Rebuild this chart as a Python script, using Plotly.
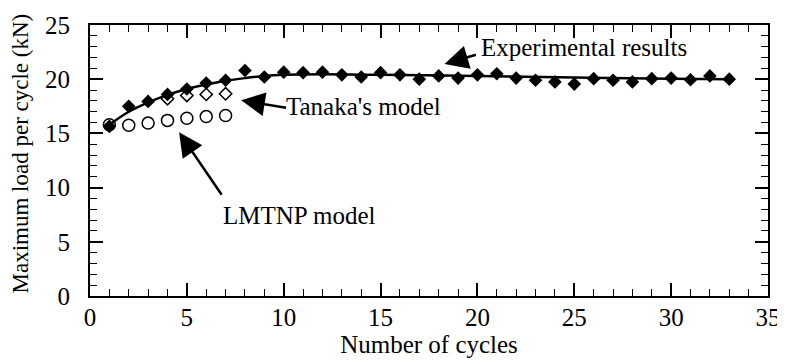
import plotly.graph_objects as go

# Data
cycles_exp = list(range(1, 34))
load_exp = [15.65, 17.5, 17.95, 18.6, 19.1, 19.65, 19.9, 20.8, 20.2, 20.65,
            20.6, 20.65, 20.4, 20.2, 20.6, 20.4, 20.0, 20.3, 20.1, 20.4,
            20.5, 20.1, 19.9, 19.75, 19.55, 20.05, 19.9, 19.75, 20.05, 20.1,
            19.95, 20.3, 20.0]

cycles_fit = [1, 2, 3, 4, 5, 6, 7, 8, 9, 10, 12, 15, 20, 25, 30, 33]
load_fit = [15.8, 17.0, 17.85, 18.55, 19.1, 19.5, 19.85, 20.1, 20.3, 20.4,
            20.45, 20.4, 20.3, 20.15, 20.05, 20.0]

cycles_tanaka = [4, 5, 6, 7]
load_tanaka = [18.2, 18.5, 18.6, 18.65]

cycles_lmtnp = [1, 2, 3, 4, 5, 6, 7]
load_lmtnp = [15.8, 15.75, 15.95, 16.2, 16.4, 16.55, 16.65]

FONT = "Liberation Serif"

fig = go.Figure()

fig.add_trace(go.Scatter(
    x=cycles_lmtnp, y=load_lmtnp, mode="markers", name="LMTNP model",
    marker=dict(symbol="circle-open", size=12, color="black",
                line=dict(width=1.5, color="black"))))

fig.add_trace(go.Scatter(
    x=cycles_tanaka, y=load_tanaka, mode="markers", name="Tanaka's model",
    marker=dict(symbol="diamond", size=9.5, color="white",
                line=dict(width=1.5, color="black"))))

fig.add_trace(go.Scatter(
    x=cycles_fit, y=load_fit, mode="lines", name="fit",
    line=dict(color="black", width=2.5, shape="spline", smoothing=1.0)))

fig.add_trace(go.Scatter(
    x=cycles_exp, y=load_exp, mode="markers", name="Experimental results",
    marker=dict(symbol="diamond", size=10.5, color="black",
                line=dict(width=0))))

axis_common = dict(
    showgrid=False, zeroline=False, showline=True, linecolor="black",
    linewidth=2, mirror="ticks", ticks="inside", ticklen=13, tickwidth=1.5,
    tickcolor="black", automargin=False,
    tickfont=dict(family=FONT, size=25, color="black"),
)

fig.update_xaxes(
    range=[0, 35], dtick=5, tick0=0,
    minor=dict(dtick=1, ticks="inside", ticklen=7, tickwidth=1.2,
               tickcolor="black"),
    title=dict(text="Number of cycles", font=dict(family=FONT, size=25,
               color="black"), standoff=0),
    ticklabelstandoff=-2,
    **axis_common)

fig.update_yaxes(
    range=[0, 25], dtick=5, tick0=0,
    minor=dict(dtick=1, ticks="inside", ticklen=7, tickwidth=1.2,
               tickcolor="black"),
    ticklabelstandoff=13,
    **axis_common)

# y-axis title as a rotated annotation so it can sit slightly above centre
fig.add_annotation(text="Maximum load per cycle (kN)", xref="paper",
                   yref="paper", x=0, y=0.5, xanchor="center",
                   yanchor="middle", xshift=-70, yshift=7, textangle=-90,
                   showarrow=False,
                   font=dict(family=FONT, size=23, color="black"))

arrow_style = dict(showarrow=True, arrowhead=2, arrowsize=1.9, arrowwidth=2.5,
                   arrowcolor="black", axref="x", ayref="y", text="",
                   standoff=0, startstandoff=0)

# Experimental results arrow and label
fig.add_annotation(x=18.3, y=21.4, ax=20.0, ay=22.3, **arrow_style)
fig.add_annotation(x=20.1, y=22.95, text="Experimental results",
                   showarrow=False, xanchor="left", yanchor="middle",
                   font=dict(family=FONT, size=25, color="black"))

# Tanaka's model arrow and label
fig.add_annotation(x=7.8, y=18.05, ax=10.2, ay=17.35, **arrow_style)
fig.add_annotation(x=10.0, y=17.5, text="Tanaka's model",
                   showarrow=False, xanchor="left", yanchor="middle",
                   font=dict(family=FONT, size=25, color="black"))

# LMTNP model arrow and label
fig.add_annotation(x=4.6, y=15.1, ax=6.85, ay=9.2, **arrow_style)
fig.add_annotation(x=6.75, y=7.4, text="LMTNP model",
                   showarrow=False, xanchor="left", yanchor="middle",
                   font=dict(family=FONT, size=25, color="black"))

# margins compensate for the page's default 8px body offset
fig.update_layout(
    width=785, height=363,
    margin=dict(l=82, r=25, t=17, b=75, autoexpand=False),
    paper_bgcolor="white", plot_bgcolor="white",
    showlegend=False,
    font=dict(family=FONT, color="black"),
)

fig.write_html("out.html")
